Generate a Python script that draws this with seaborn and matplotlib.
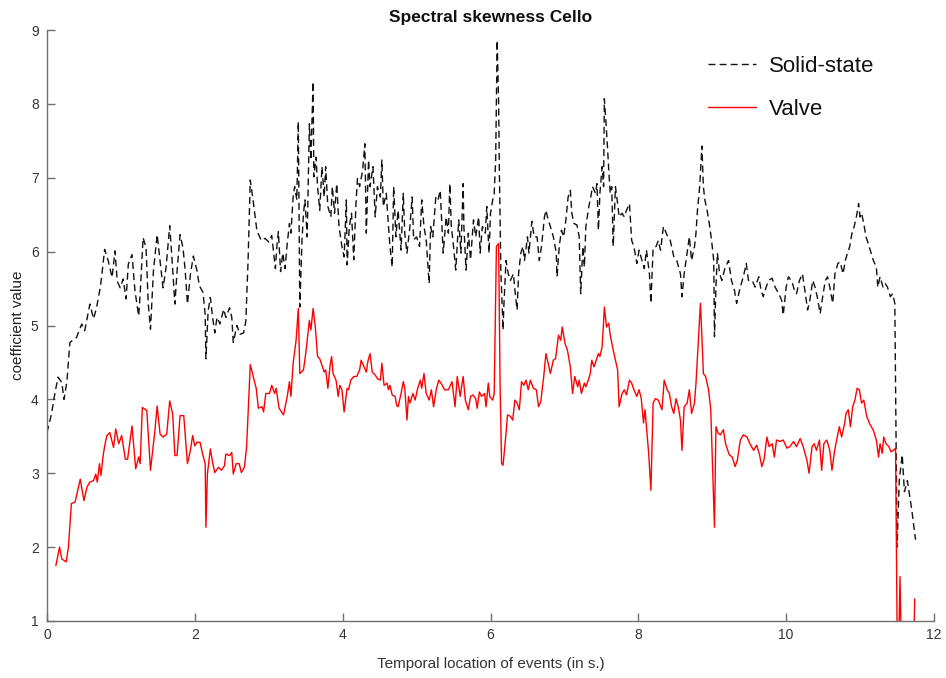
import numpy as np
import pandas as pd
import matplotlib
matplotlib.use("Agg")
import matplotlib.pyplot as plt
import seaborn as sns

# ---------------- data ----------------
solid_x = [0.00, 0.06, 0.11, 0.15, 0.20, 0.23, 0.27, 0.31, 0.40, 0.47, 0.51, 0.58, 0.63, 0.67, 0.72, 0.74,
           0.78, 0.83, 0.88, 0.92, 0.95, 0.99, 1.03, 1.07, 1.10, 1.15, 1.19, 1.24, 1.26, 1.30, 1.34, 1.37,
           1.40, 1.44, 1.49, 1.53, 1.57, 1.61, 1.66, 1.69, 1.73, 1.76, 1.80, 1.84, 1.87, 1.90, 1.94, 1.98,
           2.03, 2.06, 2.11, 2.14, 2.15, 2.18, 2.21, 2.24, 2.27, 2.30, 2.34, 2.39, 2.42, 2.47, 2.50, 2.52,
           2.57, 2.61, 2.66, 2.69, 2.72, 2.75, 2.79, 2.84, 2.90, 2.95, 3.00, 3.04, 3.09, 3.11, 3.13, 3.16,
           3.19, 3.22, 3.25, 3.28, 3.30, 3.33, 3.35, 3.38, 3.40, 3.41, 3.42, 3.45, 3.47, 3.49, 3.52, 3.55,
           3.57, 3.60, 3.61, 3.64, 3.66, 3.69, 3.72, 3.75, 3.77, 3.80, 3.84, 3.86, 3.89, 3.92, 3.95, 3.99,
           4.02, 4.05, 4.06, 4.09, 4.12, 4.15, 4.18, 4.20, 4.23, 4.27, 4.30, 4.32, 4.35, 4.37, 4.41, 4.44,
           4.47, 4.51, 4.53, 4.55, 4.59, 4.62, 4.64, 4.67, 4.69, 4.72, 4.75, 4.79, 4.82, 4.84, 4.87, 4.91,
           4.94, 4.96, 5.00, 5.04, 5.07, 5.10, 5.13, 5.17, 5.19, 5.22, 5.26, 5.29, 5.32, 5.36, 5.40, 5.43,
           5.45, 5.47, 5.50, 5.53, 5.57, 5.60, 5.63, 5.64, 5.67, 5.70, 5.73, 5.77, 5.80, 5.84, 5.86, 5.89,
           5.93, 5.95, 5.98, 6.00, 6.03, 6.05, 6.07, 6.09, 6.11, 6.12, 6.14, 6.17, 6.18, 6.21, 6.24, 6.27,
           6.31, 6.33, 6.36, 6.38, 6.41, 6.44, 6.46, 6.50, 6.52, 6.56, 6.59, 6.63, 6.66, 6.69, 6.73, 6.75,
           6.78, 6.81, 6.85, 6.89, 6.90, 6.93, 6.96, 6.99, 7.02, 7.05, 7.08, 7.10, 7.13, 7.17, 7.20, 7.22,
           7.25, 7.27, 7.29, 7.33, 7.36, 7.38, 7.42, 7.44, 7.46, 7.48, 7.51, 7.53, 7.54, 7.56, 7.58, 7.60,
           7.62, 7.64, 7.66, 7.69, 7.72, 7.74, 7.78, 7.81, 7.84, 7.88, 7.91, 7.94, 7.98, 8.01, 8.05, 8.08,
           8.11, 8.15, 8.17, 8.20, 8.24, 8.27, 8.30, 8.34, 8.39, 8.43, 8.48, 8.52, 8.57, 8.59, 8.62, 8.66,
           8.69, 8.72, 8.76, 8.78, 8.80, 8.83, 8.85, 8.86, 8.88, 8.90, 8.93, 8.96, 8.99, 9.02, 9.03, 9.05,
           9.07, 9.10, 9.13, 9.17, 9.22, 9.26, 9.30, 9.33, 9.37, 9.40, 9.43, 9.46, 9.49, 9.54, 9.58, 9.63,
           9.66, 9.69, 9.73, 9.76, 9.81, 9.85, 9.90, 9.94, 9.96, 10.00, 10.03, 10.08, 10.11, 10.14, 10.18,
           10.22, 10.26, 10.29, 10.32, 10.36, 10.39, 10.42, 10.46, 10.50, 10.53, 10.56, 10.59, 10.63, 10.66,
           10.70, 10.73, 10.77, 10.80, 10.83, 10.86, 10.89, 10.92, 10.95, 10.98, 11.00, 11.02, 11.05, 11.08,
           11.11, 11.15, 11.18, 11.22, 11.24, 11.27, 11.31, 11.34, 11.37, 11.41, 11.44, 11.47, 11.50, 11.53,
           11.57, 11.60, 11.64, 11.70, 11.75]
solid_y = [3.55, 3.80, 4.10, 4.30, 4.23, 4.00, 4.25, 4.77, 4.84, 5.02, 4.93, 5.29, 5.09, 5.24, 5.51, 5.67,
           6.03, 5.87, 5.65, 6.01, 5.60, 5.51, 5.63, 5.36, 5.83, 5.96, 5.47, 5.13, 5.42, 6.19, 6.05, 5.29,
           4.95, 5.74, 6.23, 5.87, 5.51, 5.78, 6.35, 5.92, 5.29, 5.74, 6.23, 6.05, 5.74, 5.29, 5.69, 5.94,
           5.74, 5.54, 5.45, 5.15, 4.55, 5.20, 5.38, 5.11, 4.90, 5.11, 5.02, 5.22, 5.11, 5.24, 5.11, 4.77,
           5.00, 4.88, 4.90, 5.06, 5.87, 6.97, 6.68, 6.28, 6.15, 6.18, 6.13, 6.22, 5.77, 6.07, 6.27, 5.73,
           5.98, 5.77, 6.11, 6.38, 6.25, 6.74, 6.88, 6.70, 7.76, 6.52, 5.25, 6.16, 6.52, 6.70, 6.20, 7.73,
           7.24, 8.30, 7.01, 7.28, 6.88, 6.56, 7.15, 6.74, 7.15, 6.61, 6.47, 6.88, 6.52, 6.92, 6.34, 6.07,
           5.93, 6.70, 5.82, 6.34, 6.52, 5.89, 6.65, 6.99, 6.88, 7.10, 7.46, 6.25, 7.24, 6.88, 7.15, 6.47,
           6.88, 6.74, 7.24, 6.61, 6.79, 6.34, 6.07, 5.79, 6.88, 6.20, 6.56, 6.02, 6.79, 6.25, 5.98, 6.34,
           6.74, 6.16, 6.20, 6.07, 6.70, 6.34, 6.16, 5.57, 6.34, 6.20, 6.74, 6.70, 6.83, 5.98, 6.47, 6.25,
           6.92, 6.34, 6.07, 5.75, 6.43, 5.98, 6.92, 6.34, 5.75, 6.25, 5.89, 6.43, 6.20, 6.47, 5.98, 6.34,
           6.25, 6.61, 5.98, 6.52, 6.70, 6.79, 7.24, 8.86, 8.00, 7.10, 5.75, 4.94, 5.25, 5.88, 5.70, 5.61,
           5.70, 5.48, 5.21, 5.70, 5.98, 6.07, 5.88, 6.20, 5.98, 6.41, 6.20, 6.20, 5.88, 6.07, 6.47, 6.56,
           6.43, 6.34, 6.20, 5.98, 5.66, 6.07, 6.29, 6.20, 6.43, 6.74, 6.83, 6.52, 6.38, 6.36, 6.20, 5.43,
           6.07, 5.79, 6.34, 6.61, 6.76, 6.88, 6.79, 6.92, 6.29, 6.79, 7.15, 6.88, 8.07, 7.78, 7.46, 7.10,
           6.79, 6.88, 6.07, 6.88, 6.65, 6.47, 6.52, 6.47, 6.56, 6.65, 6.15, 6.07, 5.84, 6.02, 5.88, 5.77,
           6.02, 5.70, 5.30, 6.05, 6.07, 6.15, 6.02, 6.34, 6.22, 6.16, 5.93, 5.88, 5.70, 5.39, 5.70, 5.98,
           6.20, 5.88, 6.07, 6.25, 6.56, 6.88, 7.24, 7.43, 6.88, 6.70, 6.56, 6.38, 6.16, 5.88, 4.85, 5.52,
           5.98, 5.70, 5.61, 5.77, 5.88, 5.61, 5.48, 5.30, 5.48, 5.59, 5.70, 5.84, 5.61, 5.61, 5.52, 5.66,
           5.48, 5.39, 5.52, 5.61, 5.64, 5.52, 5.43, 5.34, 5.14, 5.52, 5.66, 5.59, 5.48, 5.43, 5.61,
           5.70, 5.43, 5.21, 5.34, 5.61, 5.52, 5.39, 5.16, 5.43, 5.61, 5.66, 5.52, 5.30, 5.70,
           5.84, 5.86, 5.70, 5.88, 5.98, 6.07, 6.25, 6.34, 6.47, 6.65, 6.47, 6.52, 6.38, 6.20,
           6.11, 5.98, 5.88, 5.79, 5.52, 5.66, 5.52, 5.57, 5.52, 5.39, 5.43, 5.30, 2.00, 2.90,
           3.25, 2.75, 2.90, 2.50, 2.10]

valve_x = [0.12, 0.17, 0.20, 0.26, 0.29, 0.33, 0.38, 0.41, 0.45, 0.50, 0.54, 0.58, 0.63, 0.66, 0.68, 0.71,
           0.73, 0.76, 0.78, 0.81, 0.85, 0.90, 0.93, 0.97, 1.01, 1.06, 1.09, 1.15, 1.20, 1.24, 1.26, 1.29,
           1.35, 1.40, 1.46, 1.49, 1.53, 1.57, 1.62, 1.66, 1.70, 1.73, 1.76, 1.80, 1.85, 1.90, 1.94, 1.97,
           2.00, 2.03, 2.07, 2.11, 2.14, 2.15, 2.17, 2.21, 2.24, 2.27, 2.32, 2.36, 2.40, 2.42, 2.47, 2.50,
           2.52, 2.56, 2.60, 2.63, 2.67, 2.70, 2.75, 2.79, 2.83, 2.86, 2.91, 2.93, 2.96, 3.01, 3.04, 3.08,
           3.10, 3.14, 3.20, 3.25, 3.28, 3.30, 3.33, 3.37, 3.40, 3.42, 3.47, 3.50, 3.55, 3.57, 3.60, 3.63,
           3.66, 3.69, 3.72, 3.75, 3.77, 3.80, 3.83, 3.85, 3.87, 3.91, 3.94, 3.96, 3.99, 4.02, 4.06, 4.08,
           4.11, 4.15, 4.19, 4.23, 4.25, 4.28, 4.32, 4.34, 4.37, 4.40, 4.44, 4.47, 4.51, 4.53, 4.56, 4.60,
           4.62, 4.64, 4.67, 4.71, 4.73, 4.75, 4.79, 4.82, 4.84, 4.87, 4.89, 4.91, 4.95, 4.98, 5.01, 5.05,
           5.07, 5.10, 5.13, 5.17, 5.20, 5.23, 5.27, 5.30, 5.33, 5.38, 5.43, 5.48, 5.52, 5.55, 5.59, 5.63,
           5.66, 5.70, 5.73, 5.76, 5.80, 5.82, 5.85, 5.88, 5.92, 5.94, 5.97, 5.99, 6.03, 6.05, 6.08, 6.11,
           6.13, 6.15, 6.17, 6.21, 6.23, 6.27, 6.30, 6.33, 6.36, 6.39, 6.42, 6.45, 6.48, 6.51, 6.54, 6.58,
           6.62, 6.65, 6.68, 6.72, 6.75, 6.78, 6.81, 6.85, 6.88, 6.92, 6.95, 6.97, 7.01, 7.04, 7.08, 7.11,
           7.14, 7.18, 7.20, 7.23, 7.27, 7.29, 7.33, 7.35, 7.37, 7.40, 7.43, 7.46, 7.48, 7.51, 7.53, 7.54,
           7.57, 7.60, 7.62, 7.66, 7.69, 7.72, 7.74, 7.78, 7.81, 7.84, 7.88, 7.91, 7.94, 7.98, 8.01, 8.04,
           8.07, 8.09, 8.14, 8.17, 8.20, 8.23, 8.27, 8.32, 8.35, 8.39, 8.42, 8.45, 8.48, 8.51, 8.54, 8.57,
           8.59, 8.62, 8.66, 8.69, 8.72, 8.76, 8.78, 8.81, 8.84, 8.86, 8.88, 8.91, 8.95, 8.98, 9.03, 9.05,
           9.08, 9.11, 9.15, 9.18, 9.23, 9.27, 9.31, 9.34, 9.38, 9.42, 9.47, 9.51, 9.56, 9.60, 9.64, 9.67,
           9.70, 9.74, 9.77, 9.81, 9.84, 9.87, 9.92, 9.96, 10.01, 10.05, 10.10, 10.14, 10.19, 10.23, 10.28,
           10.31, 10.35, 10.38, 10.41, 10.45, 10.48, 10.51, 10.55, 10.59, 10.62, 10.65, 10.69, 10.72, 10.75,
           10.79, 10.81, 10.84, 10.87, 10.90, 10.93, 10.96, 10.99, 11.02, 11.05, 11.09, 11.13, 11.18, 11.22,
           11.25, 11.27, 11.30, 11.32, 11.35, 11.39, 11.42, 11.45, 11.48, 11.50, 11.52, 11.54, 11.56, 11.72,
           11.74]
valve_y = [1.75, 2.00, 1.84, 1.80, 2.00, 2.59, 2.61, 2.74, 2.92, 2.63, 2.81, 2.88, 2.90, 2.99, 2.88, 3.13,
           2.97, 3.24, 3.37, 3.51, 3.55, 3.35, 3.60, 3.40, 3.51, 3.19, 3.19, 3.64, 3.06, 3.22, 3.13, 3.89,
           3.85, 3.04, 3.58, 3.91, 3.53, 3.49, 3.53, 3.98, 3.80, 3.24, 3.24, 3.78, 3.78, 3.13, 3.31, 3.51,
           3.37, 3.42, 3.42, 3.24, 3.13, 2.27, 2.99, 3.33, 3.15, 3.01, 3.08, 3.04, 3.10, 3.26, 3.24, 3.28,
           2.99, 3.13, 3.13, 3.01, 3.08, 3.35, 4.47, 4.31, 4.15, 3.88, 3.90, 3.83, 4.08, 4.08, 4.19, 4.08,
           4.15, 3.88, 3.79, 4.04, 4.24, 4.04, 4.49, 4.80, 5.23, 4.35, 4.40, 4.62, 5.07, 4.94, 5.23, 4.98,
           4.58, 4.55, 4.46, 4.37, 4.40, 4.15, 4.46, 4.58, 4.35, 4.26, 4.04, 4.19, 4.13, 3.83, 4.15, 4.13,
           4.26, 4.31, 4.31, 4.40, 4.53, 4.46, 4.37, 4.51, 4.62, 4.37, 4.33, 4.28, 4.26, 4.49, 4.19, 4.22,
           4.13, 4.19, 4.06, 4.04, 3.92, 3.90, 4.08, 4.24, 4.15, 3.72, 4.04, 3.95, 4.08, 3.99, 4.13, 4.26,
           4.15, 4.35, 4.08, 3.99, 4.13, 3.90, 4.15, 4.26, 4.22, 4.13, 4.13, 4.24, 3.90, 4.31, 4.04, 4.31,
           3.99, 3.86, 4.04, 4.06, 4.01, 3.88, 4.10, 4.04, 4.08, 3.90, 4.22, 4.04, 3.99, 4.08, 6.07, 6.11,
           4.17, 3.13, 3.11, 3.54, 3.79, 3.77, 3.72, 3.99, 3.95, 3.86, 4.24, 4.19, 4.26, 4.13, 4.26, 4.15,
           4.13, 3.90, 3.97, 4.31, 4.62, 4.49, 4.35, 4.53, 4.55, 4.87, 4.80, 4.98, 4.75, 4.67, 4.44, 4.08,
           4.31, 4.17, 4.26, 4.08, 4.22, 4.17, 4.28, 4.35, 4.53, 4.44, 4.53, 4.62, 4.58, 4.71, 5.05, 5.25,
           4.98, 5.03, 4.87, 4.67, 4.53, 4.40, 3.90, 4.08, 4.13, 4.06, 4.26, 4.22, 4.13, 4.04, 4.13, 4.01,
           3.68, 3.86, 3.27, 2.77, 3.95, 4.01, 3.99, 3.86, 4.26, 4.13, 4.08, 3.90, 3.81, 4.01, 3.90, 3.72,
           3.31, 3.90, 3.95, 4.13, 3.81, 3.95, 4.22, 4.76, 5.30, 4.85, 4.35, 4.31, 4.13, 3.86, 2.27, 3.63,
           3.54, 3.52, 3.59, 3.40, 3.25, 3.22, 3.09, 3.18, 3.45, 3.52, 3.49, 3.40, 3.31, 3.38, 3.25, 3.09,
           3.18, 3.49, 3.36, 3.40, 3.22, 3.45, 3.43, 3.45, 3.34, 3.36, 3.43, 3.36, 3.47, 3.36, 3.18,
           3.00, 3.36, 3.40, 3.31, 3.45, 3.04, 3.40, 3.45, 3.31, 3.04, 3.27, 3.49, 3.63, 3.49,
           3.67, 3.81, 3.86, 3.63, 3.90, 3.99, 4.15, 4.13, 3.95, 3.99, 3.77, 3.67, 3.58, 3.45,
           3.22, 3.40, 3.27, 3.49, 3.40, 3.36, 3.29, 3.31, 3.34, 1.00, 0.50, 1.60, 0.50, 0.50,
           1.30]

series_names = ["Solid-state", "Valve"]
title_text = "Spectral skewness Cello"
x_label = "Temporal location of events (in s.)"
y_label = "coefficient value"
x_ticks = [0, 2, 4, 6, 8, 10, 12]
y_ticks = [1, 2, 3, 4, 5, 6, 7, 8, 9]

df = pd.concat([
    pd.DataFrame({"t": solid_x, "v": solid_y, "series": series_names[0]}),
    pd.DataFrame({"t": valve_x, "v": valve_y, "series": series_names[1]}),
], ignore_index=True)

# ---------------- plot ----------------
sns.set_theme(style="white")
plt.rcParams["font.family"] = ["Liberation Sans", "DejaVu Sans"]

fig = plt.figure(figsize=(9.46, 6.78), dpi=100)
ax = fig.add_axes([47 / 946, 1 - 621 / 678, (934 - 47) / 946, (621 - 30) / 678])

sns.lineplot(data=df, x="t", y="v", hue="series", style="series",
             palette={"Solid-state": "#111111", "Valve": "#ff0000"},
             dashes={"Solid-state": (5, 3), "Valve": ""},
             sort=False, estimator=None, units="series", linewidth=1.0, ax=ax, legend=True)

ax.set_xlim(0, 12)
ax.set_ylim(1, 9)
ax.set_xticks(x_ticks)
ax.set_yticks(y_ticks)

spine_col = "#707070"
for s in ["top", "right"]:
    ax.spines[s].set_visible(False)
for s in ["left", "bottom"]:
    ax.spines[s].set_color(spine_col)
    ax.spines[s].set_linewidth(1.0)
ax.tick_params(direction="in", length=6, width=1.0, color=spine_col,
               labelsize=10, labelcolor="#333333", left=True, bottom=True)
ax.tick_params(axis="y", pad=6)
ax.tick_params(axis="x", pad=5)

ax.set_xlabel(x_label, fontsize=11, color="#333333", labelpad=11)
ax.set_ylabel(y_label, fontsize=11, color="#222222", labelpad=4)
ax.set_title(title_text, fontsize=12.5, fontweight="bold", color="#111111", pad=6)

leg = ax.legend(loc="upper left", bbox_to_anchor=(0.7226, 0.99), frameon=False,
                fontsize=16, handlelength=2.15, labelspacing=1.0, handletextpad=0.6)
for t in leg.get_texts():
    t.set_color("#111111")

fig.savefig("out.png", dpi=100)
